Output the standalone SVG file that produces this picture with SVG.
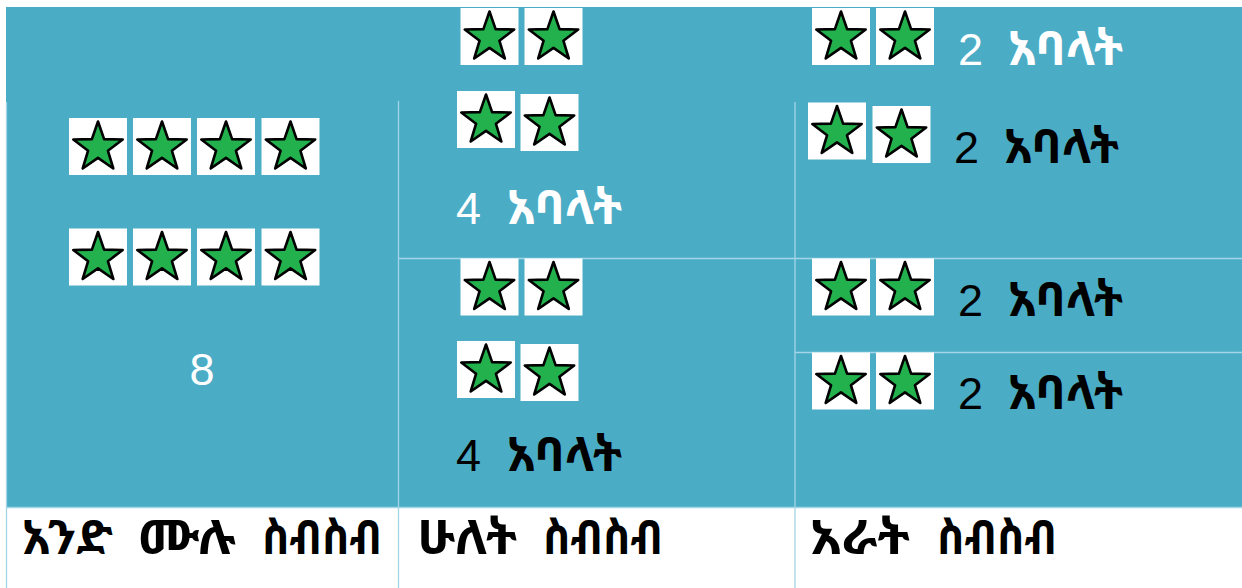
<svg xmlns="http://www.w3.org/2000/svg" xmlns:xlink="http://www.w3.org/1999/xlink" width="1242" height="588" viewBox="0 0 1242 588">
<style>
.cell{fill:#4BACC6}
.grid{stroke:#A3D5E6;stroke-width:1.3;fill:none}
.num{font-family:"Liberation Sans",Arial,sans-serif;font-size:45px}
.eth{font-family:"Noto Sans Ethiopic","Abyssinica SIL","Noto Serif Ethiopic","Noto Sans","DejaVu Sans",sans-serif;font-size:47px;font-weight:bold}
.lbl{font-family:"Noto Sans Ethiopic","Abyssinica SIL","Noto Serif Ethiopic","Noto Sans","DejaVu Sans",sans-serif;font-size:48px;font-weight:bold;fill:#000}
.w{fill:#fff}
.k{fill:#000}
</style>
<defs>
<g id="star">
<rect x="0" y="0" width="58" height="57" fill="#fff"/>
<path transform="translate(29,29.5)" d="M0,-26 L6.1,-8.4 L24.7,-8 L9.9,3.2 L15.3,21 L0,10.4 L-15.3,21 L-9.9,3.2 L-24.7,-8 L-6.1,-8.4 Z" fill="#22B14C" stroke="#000" stroke-width="2.6" stroke-linejoin="round"/>
</g>
</defs>
<g id="background">
<rect class="cell" x="6" y="7" width="1236" height="501"/>
<rect x="6" y="508" width="1236" height="80" fill="#fff"/>
</g>
<g id="connectors">
<line class="grid" x1="6.5" y1="102" x2="6.5" y2="588"/>
<line class="grid" x1="398.5" y1="101" x2="398.5" y2="588"/>
<line class="grid" x1="795" y1="102" x2="795" y2="588"/>
<line class="grid" x1="398" y1="258.5" x2="1242" y2="258.5"/>
<line class="grid" x1="795" y1="352.5" x2="1242" y2="352.5"/>
<line class="grid" x1="6" y1="507.5" x2="1242" y2="507.5"/>
</g>
<g id="node-whole">
<use xlink:href="#star" x="69" y="118"/>
<use xlink:href="#star" x="133" y="118"/>
<use xlink:href="#star" x="197" y="118"/>
<use xlink:href="#star" x="261.5" y="118"/>
<use xlink:href="#star" x="69" y="228.5"/>
<use xlink:href="#star" x="133" y="228.5"/>
<use xlink:href="#star" x="197" y="228.5"/>
<use xlink:href="#star" x="261.5" y="228.5"/>
<text class="num w" x="202" y="385" text-anchor="middle">8</text>
</g>
<g id="node-half-1">
<use xlink:href="#star" x="460.5" y="8"/>
<use xlink:href="#star" x="524.5" y="8"/>
<use xlink:href="#star" x="457" y="91"/>
<use xlink:href="#star" x="520.5" y="94"/>
<text class="num w" x="456" y="224">4</text>
<text class="eth w" x="507" y="224" textLength="115" lengthAdjust="spacingAndGlyphs">አባላት</text>
</g>
<g id="node-half-2">
<use xlink:href="#star" x="460.5" y="258.5"/>
<use xlink:href="#star" x="524.5" y="258.5"/>
<use xlink:href="#star" x="457" y="341"/>
<use xlink:href="#star" x="520.5" y="344"/>
<text class="num k" x="456" y="471">4</text>
<text class="eth k" x="507" y="471" textLength="115" lengthAdjust="spacingAndGlyphs">አባላት</text>
</g>
<g id="node-quarter-1">
<use xlink:href="#star" x="812" y="8"/>
<use xlink:href="#star" x="876" y="8"/>
<text class="num w" x="958" y="65">2</text>
<text class="eth w" x="1008" y="65" textLength="115" lengthAdjust="spacingAndGlyphs">አባላት</text>
</g>
<g id="node-quarter-2">
<use xlink:href="#star" x="808" y="102.5"/>
<use xlink:href="#star" x="872.5" y="106"/>
<text class="num k" x="954" y="163">2</text>
<text class="eth k" x="1004" y="163" textLength="115" lengthAdjust="spacingAndGlyphs">አባላት</text>
</g>
<g id="node-quarter-3">
<use xlink:href="#star" x="812" y="258.5"/>
<use xlink:href="#star" x="876" y="258.5"/>
<text class="num k" x="958" y="316">2</text>
<text class="eth k" x="1008" y="316" textLength="115" lengthAdjust="spacingAndGlyphs">አባላት</text>
</g>
<g id="node-quarter-4">
<use xlink:href="#star" x="812" y="352.5"/>
<use xlink:href="#star" x="876" y="352.5"/>
<text class="num k" x="958" y="409">2</text>
<text class="eth k" x="1008" y="409" textLength="115" lengthAdjust="spacingAndGlyphs">አባላት</text>
</g>
<g id="labels">
<text class="lbl" y="554"><tspan x="22" textLength="91" lengthAdjust="spacingAndGlyphs">አንድ</tspan> <tspan x="138" textLength="98" lengthAdjust="spacingAndGlyphs">ሙሉ</tspan> <tspan x="262" textLength="120" lengthAdjust="spacingAndGlyphs">ስብስብ</tspan></text>
<text class="lbl" y="554"><tspan x="417" textLength="100" lengthAdjust="spacingAndGlyphs">ሁለት</tspan> <tspan x="543" textLength="120" lengthAdjust="spacingAndGlyphs">ስብስብ</tspan></text>
<text class="lbl" y="554"><tspan x="810" textLength="100" lengthAdjust="spacingAndGlyphs">አራት</tspan> <tspan x="937" textLength="120" lengthAdjust="spacingAndGlyphs">ስብስብ</tspan></text>
</g>
</svg>
